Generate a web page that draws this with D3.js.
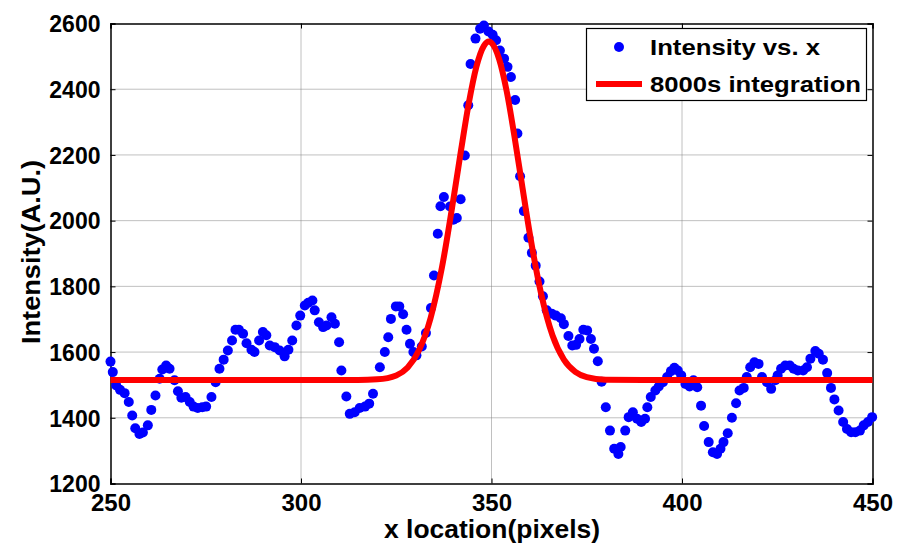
<!DOCTYPE html>
<html><head><meta charset="utf-8">
<script src="https://cdn.jsdelivr.net/npm/d3@7"></script>
<style>
html,body{margin:0;padding:0;background:#fff;}
svg text{font-family:"Liberation Sans",Arial,sans-serif;font-weight:bold;fill:#000;}
</style></head>
<body><svg id="c" width="897" height="546"></svg>
<script>
// Measured data: x location (pixels) and intensity (A.U.)
const dataX = [250.0,250.6,251.5,252.5,253.7,254.8,255.7,256.5,257.6,258.5,259.8,260.7,261.8,262.9,263.6,264.6,265.5,266.8,267.7,268.6,269.7,270.8,271.8,272.9,274.1,275.1,276.5,277.6,278.6,279.7,280.8,281.9,282.8,283.7,284.8,285.7,287.0,287.8,289.0,290.0,290.9,291.8,293.1,294.4,295.7,296.7,297.7,298.8,299.8,301.0,301.9,303.0,303.6,304.7,305.8,306.7,308.0,308.9,310.0,310.6,311.9,312.8,314.1,315.4,316.8,317.9,318.9,320.7,322.0,322.9,323.6,324.9,325.8,326.8,327.7,328.6,329.5,330.3,331.7,332.8,334.1,334.9,335.9,336.6,337.5,339.1,340.0,340.9,341.9,343.0,343.9,344.5,345.8,347.0,348.0,349.2,350.3,351.2,352.2,353.3,354.2,355.1,356.2,356.8,357.5,358.5,359.7,360.6,361.6,362.6,363.5,364.5,365.8,366.9,368.2,369.0,370.2,371.2,372.2,373.1,374.1,375.1,376.1,376.9,377.9,378.9,380.0,381.1,382.2,383.3,383.9,385.1,386.0,387.1,388.2,389.3,390.3,390.9,391.8,393.0,393.9,395.0,396.1,397.1,398.0,398.9,399.8,400.9,402.0,403.0,404.0,405.0,405.8,407.0,408.1,409.2,410.1,410.9,412.0,413.1,414.2,415.1,416.2,417.0,417.9,419.0,420.1,421.0,422.3,423.4,424.5,425.1,426.0,427.1,428.3,429.3,430.4,431.8,432.8,433.7,435.0,435.9,437.0,438.1,439.1,440.0,441.1,442.3,443.3,444.4,445.5,446.7,447.7,448.8,449.9];
const dataY = [1571,1539,1498,1485,1475,1448,1407,1368,1351,1355,1377,1424,1468,1519,1547,1559,1549,1514,1481,1461,1463,1448,1434,1430,1432,1434,1463,1508,1549,1577,1605,1635,1668,1668,1656,1627,1607,1600,1635,1661,1651,1620,1615,1605,1587,1607,1635,1681,1711,1742,1750,1757,1727,1691,1676,1681,1706,1686,1630,1544,1465,1412,1417,1430,1434,1443,1473,1554,1600,1645,1701,1739,1739,1715,1668,1625,1600,1590,1617,1658,1734,1833,1960,2044,2072,2043,2003,2008,2065,2198,2351,2477,2554,2584,2594,2576,2566,2549,2518,2493,2468,2437,2367,2265,2135,2029,1948,1902,1863,1815,1770,1727,1717,1711,1703,1685,1649,1620,1622,1640,1668,1666,1640,1610,1572,1510,1432,1361,1306,1290,1311,1361,1402,1417,1397,1387,1397,1432,1463,1483,1495,1508,1524,1542,1552,1544,1529,1503,1495,1514,1493,1437,1375,1326,1295,1290,1306,1326,1353,1400,1444,1483,1491,1524,1554,1569,1564,1524,1508,1488,1514,1529,1549,1559,1559,1549,1544,1544,1554,1580,1603,1595,1577,1536,1491,1456,1422,1387,1366,1356,1356,1361,1377,1387,1402];
// Fitted curve (8000s integration)
const fitX = [250,300,315,320,325,328,331,334,337,340,342,344,346,348,349.3,350,352,354,356,358,360,363,366,369,372,375,380,390,450];
const fitY = [1515,1515,1515,1517,1529,1553,1606,1703,1858,2065,2214,2355,2467,2532,2545,2541,2492,2393,2258,2110,1964,1779,1651,1577,1540,1524,1516,1515,1515];
const xTicks = [250,300,350,400,450];
const yTicks = [1200,1400,1600,1800,2000,2200,2400,2600];
const legendLabels = ["Intensity vs. x","8000s integration"];
const xTitle = "x location(pixels)";
const yTitle = "Intensity(A.U.)";

const svg = d3.select("#c");
const L=110.5, R=872.5, T=23.5, B=483.5;
const x = d3.scaleLinear().domain([250,450]).range([L,R]);
const y = d3.scaleLinear().domain([1200,2600]).range([B,T]);

// grid
const g = svg.append("g");
g.selectAll(".gx").data(xTicks.slice(1,-1)).enter().append("line")
  .attr("x1",d=>x(d)).attr("x2",d=>x(d)).attr("y1",T).attr("y2",B)
  .attr("stroke","#808080").attr("stroke-width",1).attr("stroke-dasharray","1,1");
g.selectAll(".gy").data(yTicks.slice(1,-1)).enter().append("line")
  .attr("y1",d=>y(d)).attr("y2",d=>y(d)).attr("x1",L).attr("x2",R)
  .attr("stroke","#808080").attr("stroke-width",1).attr("stroke-dasharray","1,1");

// axes
const ax = svg.append("g").attr("transform",`translate(0,${B})`)
  .call(d3.axisBottom(x).tickValues(xTicks).tickSize(-5).tickPadding(10).tickFormat(d3.format("d")));
const ay = svg.append("g").attr("transform",`translate(${L},0)`)
  .call(d3.axisLeft(y).tickValues(yTicks).tickSize(-5).tickPadding(10).tickFormat(d3.format("d")));
const at = svg.append("g").attr("transform",`translate(0,${T})`)
  .call(d3.axisTop(x).tickValues(xTicks).tickSize(-5).tickFormat(""));
const ar = svg.append("g").attr("transform",`translate(${R},0)`)
  .call(d3.axisRight(y).tickValues(yTicks).tickSize(-5).tickFormat(""));
[ax,ay,at,ar].forEach(a=>{a.selectAll("path").attr("stroke","#000").attr("stroke-width",1.5);
  a.selectAll("line").attr("stroke","#000");});
ax.selectAll("text").style("font-size","24px").attr("fill","#000").attr("dy","0.71em");
ay.selectAll("text").style("font-size","23px").attr("fill","#000").attr("dy","0.36em");

// data points
svg.append("g").selectAll("circle").data(dataX.map((d,i)=>[d,dataY[i]])).enter()
  .append("circle").attr("cx",d=>x(d[0])).attr("cy",d=>y(d[1])).attr("r",5).attr("fill","#0000ff");

// fit line
const line = d3.line().x(d=>x(d[0])).y(d=>y(d[1])).curve(d3.curveMonotoneX);
svg.append("path").datum(fitX.map((d,i)=>[d,fitY[i]])).attr("d",line)
  .attr("fill","none").attr("stroke","#ff0000").attr("stroke-width",6);

// titles
svg.append("text").attr("x",492).attr("y",538).attr("text-anchor","middle")
  .attr("textLength",216).attr("lengthAdjust","spacingAndGlyphs")
  .style("font-size","25px").text(xTitle);
svg.append("text").attr("transform",`translate(40,252) rotate(-90)`).attr("text-anchor","middle")
  .attr("textLength",184).attr("lengthAdjust","spacingAndGlyphs")
  .style("font-size","25px").text(yTitle);

// legend
const lg = svg.append("g");
lg.append("rect").attr("x",586.5).attr("y",28.5).attr("width",280).attr("height",72)
  .attr("fill","#fff").attr("stroke","#000").attr("stroke-width",1.2);
lg.append("circle").attr("cx",619).attr("cy",47).attr("r",5).attr("fill","#0000ff");
lg.append("line").attr("x1",596).attr("x2",642).attr("y1",84).attr("y2",84).attr("stroke","#ff0000").attr("stroke-width",6);
const lw = [170,211];
lg.selectAll("text.l").data(legendLabels).enter().append("text")
  .attr("x",650).attr("y",(d,i)=>i?84:47).attr("dy","0.36em").style("font-size","22px")
  .attr("textLength",(d,i)=>lw[i]).attr("lengthAdjust","spacingAndGlyphs").text(d=>d);
</script></body></html>
